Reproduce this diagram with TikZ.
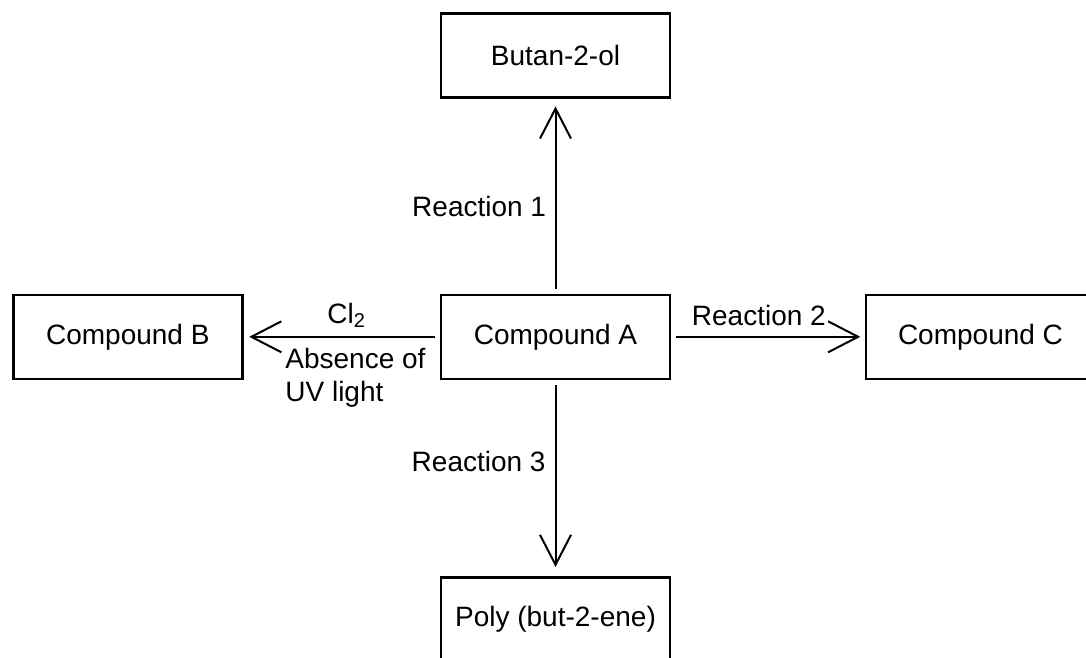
\documentclass[tikz,border=0pt]{standalone}
\usepackage{fontspec}
\setmainfont{Liberation Sans}
\usetikzlibrary{arrows.meta}
\begin{document}
\begin{tikzpicture}[x=0.5pt,y=-0.5pt,
  box/.style={draw=black, line width=1.3pt, inner sep=0pt, minimum width=114.5pt, minimum height=42pt, font=\fontsize{14}{17}\selectfont},
  lbl/.style={inner sep=0pt, font=\fontsize{14}{17}\selectfont},
  conn/.style={line width=1pt, -{Straight Barb[length=15pt,width=15.5pt,line width=1pt]}}]
\useasboundingbox (0,0) rectangle (1086,658);
\clip (0,0) rectangle (1086,658);
\fill[white] (0,0) rectangle (1086,658);
\node[box] (but) at (555.5,55.3) {Butan-2-ol};
\node[box] (A) at (555.5,336.8) {Compound A};
\node[box] (B) at (127.8,336.8) {Compound B};
\node[box] (C) at (980.5,336.8) {Compound C};
\node[box] (P) at (555.5,619.3) {Poly (but-2-ene)};
\draw[conn, shorten <=2.5pt, shorten >=3.9pt] (A.north) -- (but.south);
\draw[conn, shorten <=2.5pt, shorten >=4.5pt] (A.south) -- (P.north);
\draw[conn, shorten <=2.5pt, shorten >=2.8pt] (A.west) -- (B.east);
\draw[conn, shorten <=2.5pt, shorten >=2.2pt] (A.east) -- (C.west);
\node[lbl, anchor=base east] (r1) at (546.5,216) {Reaction 1};
\node[lbl, anchor=base east] (r3) at (546,471.5) {Reaction 3};
\node[lbl, anchor=base west] (r2) at (691.5,325) {Reaction 2};
\node[lbl, anchor=base west] (cl) at (327,323) {Cl\raisebox{-2pt}{\fontsize{10}{10}\selectfont 2}};
\node[lbl, anchor=base west] (ab) at (285,368) {Absence of};
\node[lbl, anchor=base west] (uv) at (285,401) {UV light};
\end{tikzpicture}
\end{document}
